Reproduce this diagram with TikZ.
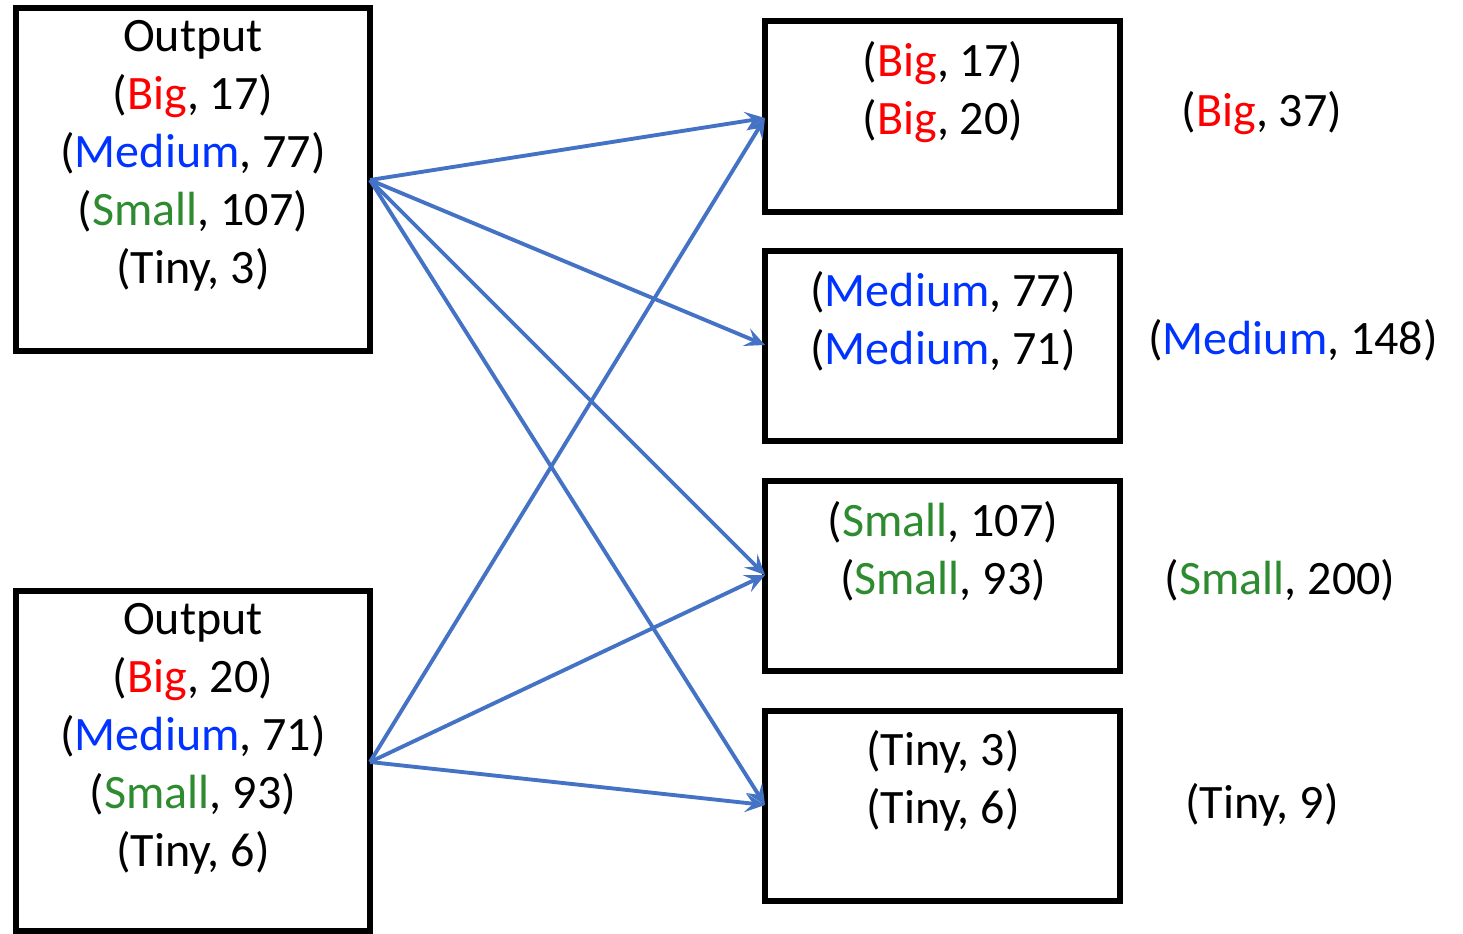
\documentclass[tikz,border=0pt]{standalone}
\usepackage{fontspec}
\setmainfont{Carlito}
\usetikzlibrary{arrows.meta}
\definecolor{cred}{RGB}{255,0,0}
\definecolor{cblue}{RGB}{0,51,255}
\definecolor{cgreen}{RGB}{46,139,48}
\definecolor{carrow}{RGB}{68,114,196}
\newcommand\lblBig{\textcolor{cred}{Big}}
\newcommand\lblMed{\textcolor{cblue}{Medium}}
\newcommand\lblSmall{\textcolor{cgreen}{Small}}
\tikzset{
  box/.style={draw=black, line width=3.9pt},
  txt/.style={align=center, inner sep=0pt, font=\fontsize{36}{43.5}\selectfont},
  link/.style={draw=carrow, line width=2.9pt,
    -{Stealth[length=15pt, width=14pt, inset=6pt]}},
}
\begin{document}
\begin{tikzpicture}[x=0.75pt, y=-0.75pt]
\useasboundingbox (0,0) rectangle (1463,934);

% source boxes
\draw[box] (16,8) rectangle (370,351);
\draw[box] (16,591) rectangle (370,931);
\node[txt] (srcA) at (193,156) {Output\\(\lblBig, 17)\\(\lblMed, 77)\\(\lblSmall, 107)\\(Tiny, 3)};
\node[txt] (srcB) at (193,739) {Output\\(\lblBig, 20)\\(\lblMed, 71)\\(\lblSmall, 93)\\(Tiny, 6)};
\coordinate (outA) at (370,180);
\coordinate (outB) at (370,762);

% grouped boxes
\draw[box] (765,21) rectangle (1120,212);
\draw[box] (765,251) rectangle (1120,441);
\draw[box] (765,481) rectangle (1120,671);
\draw[box] (765,711) rectangle (1120,901);
\node[txt] (gBig) at (943,92) {(\lblBig, 17)\\(\lblBig, 20)};
\node[txt] (gMed) at (943,321) {(\lblMed, 77)\\(\lblMed, 71)};
\node[txt] (gSmall) at (943,551) {(\lblSmall, 107)\\(\lblSmall, 93)};
\node[txt] (gTiny) at (943,781) {(Tiny, 3)\\(Tiny, 6)};
\coordinate (inBig) at (765,118);
\coordinate (inMed) at (765,345);
\coordinate (inSmall) at (765,575);
\coordinate (inTiny) at (765,805);

% totals
\node[txt] (tBig) at (1262,113) {(\lblBig, 37)};
\node[txt] (tMed) at (1293,340) {(\lblMed, 148)};
\node[txt] (tSmall) at (1280,580) {(\lblSmall, 200)};
\node[txt] (tTiny) at (1262,805) {(Tiny, 9)};

% connectors
\draw[link] (outA) -- (inBig);
\draw[link] (outA) -- (inMed);
\draw[link] (outA) -- (inSmall);
\draw[link] (outA) -- (inTiny);
\draw[link] (outB) -- (inBig);
\draw[link] (outB) -- (inSmall);
\draw[link] (outB) -- (inTiny);
\end{tikzpicture}
\end{document}
